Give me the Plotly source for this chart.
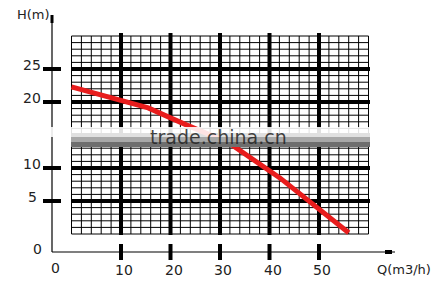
import plotly.graph_objects as go

# ---- data ----
flow_q = [0, 10, 15.5, 23.3, 31.6, 42.1, 56]          # Q (m3/h)
head_h = [22.3, 20.2, 19.1, 16.5, 13.9, 8.5, 0.2]      # H (m)

x_tick_vals = [10, 20, 30, 40, 50]
x_tick_text = ["10", "20", "30", "40", "50"]
y_tick_vals = [5, 10, 20, 25]
y_tick_text = ["5", "10", "20", "25"]
fine_q = list(range(0, 61, 2))
fine_h = list(range(0, 31, 1))
major_q = [10, 20, 30, 40, 50]
major_h = [5, 10, 15, 20, 25]

# ---- geometry (pixel scale) ----
W, HT = 438, 287
PX_Q, Q0_PX = 4.95, 71.5
PX_H, H0_PX = 6.6, 234.0
def qx(px):
    return (px - Q0_PX) / PX_Q
def hy(py):
    return (H0_PX - py) / PX_H

x_range = [qx(0), qx(W)]
y_range = [hy(HT), hy(0)]
AXIS_Q = qx(52)
AXIS_H = hy(252)

fig = go.Figure()
shapes = []
def line(x0, y0, x1, y1, w, color="black", layer="below"):
    shapes.append(dict(type="line", x0=x0, y0=y0, x1=x1, y1=y1, layer=layer,
                       line=dict(color=color, width=w)))

# fine grid
for q in fine_q:
    line(q, 0, q, 30, 1)
for h in fine_h:
    line(0, h, 60, h, 1)
# major grid
for q in major_q:
    line(q, hy(235), q, hy(33), 4)
for h in major_h:
    line(0, h, 60.3, h, 4)
# axes
line(AXIS_Q, AXIS_H, AXIS_Q, hy(15), 1.2)
line(AXIS_Q, AXIS_H, qx(395), AXIS_H, 1.2)
line(AXIS_Q, hy(15), AXIS_Q, hy(23), 3)
line(qx(385), AXIS_H, qx(392), AXIS_H, 4)
# ticks
for h in y_tick_vals:
    line(qx(43), h, qx(61), h, 4)
for q in x_tick_vals:
    line(q, hy(244), q, hy(260), 4)

# watermark band (above)
shapes.append(dict(type="rect", x0=qx(46), x1=qx(372), y0=hy(137), y1=hy(127),
                   fillcolor="rgba(255,255,255,0.88)", line=dict(width=0), layer="above"))
shapes.append(dict(type="rect", x0=qx(71), x1=qx(370), y0=hy(142), y1=hy(137),
                   fillcolor="#a8a8a8", line=dict(width=0), layer="above"))
shapes.append(dict(type="rect", x0=qx(71), x1=qx(370), y0=hy(147), y1=hy(142),
                   fillcolor="#6e6e6e", line=dict(width=0), layer="above"))

fig.add_trace(go.Scatter(x=flow_q, y=head_h, mode="lines",
                         line=dict(color="rgb(232,28,28)", width=5),
                         hoverinfo="skip", showlegend=False))

ann = []
font = dict(family="DejaVu Sans", size=14, color="#222")
for v, t in zip(y_tick_vals, y_tick_text):
    ann.append(dict(x=qx(32), y=v, text=t, showarrow=False, font=font,
                    xanchor="center", yanchor="middle", yshift=4))
ann.append(dict(x=qx(37), y=hy(249), text="0", showarrow=False, font=font,
                xanchor="center", yanchor="middle"))
for v, t in zip(x_tick_vals, x_tick_text):
    ann.append(dict(x=v, y=hy(270), text=t, showarrow=False, font=font,
                    xanchor="center", yanchor="middle", xshift=3))
ann.append(dict(x=qx(55), y=hy(268), text="0", showarrow=False, font=font,
                xanchor="center", yanchor="middle"))
ann.append(dict(x=qx(33), y=hy(14), text="H(m)", showarrow=False,
                font=dict(family="DejaVu Sans", size=13, color="#222"),
                xanchor="center", yanchor="middle"))
ann.append(dict(x=qx(404), y=hy(269), text="Q(m3/h)", showarrow=False,
                font=dict(family="DejaVu Sans", size=13, color="#222"),
                xanchor="center", yanchor="middle"))
ann.append(dict(x=qx(218), y=hy(137), text="trade.china.cn", showarrow=False,
                font=dict(family="DejaVu Sans", size=19, color="rgba(35,35,35,0.85)"),
                xanchor="center", yanchor="middle"))

fig.update_layout(
    width=W, height=HT, autosize=False,
    margin=dict(l=0, r=0, t=0, b=0, pad=0),
    paper_bgcolor="white", plot_bgcolor="white",
    xaxis=dict(range=x_range, visible=False, fixedrange=True),
    yaxis=dict(range=y_range, visible=False, fixedrange=True),
    shapes=shapes, annotations=ann,
)
fig.write_html("out.html", config=dict(displayModeBar=False))
